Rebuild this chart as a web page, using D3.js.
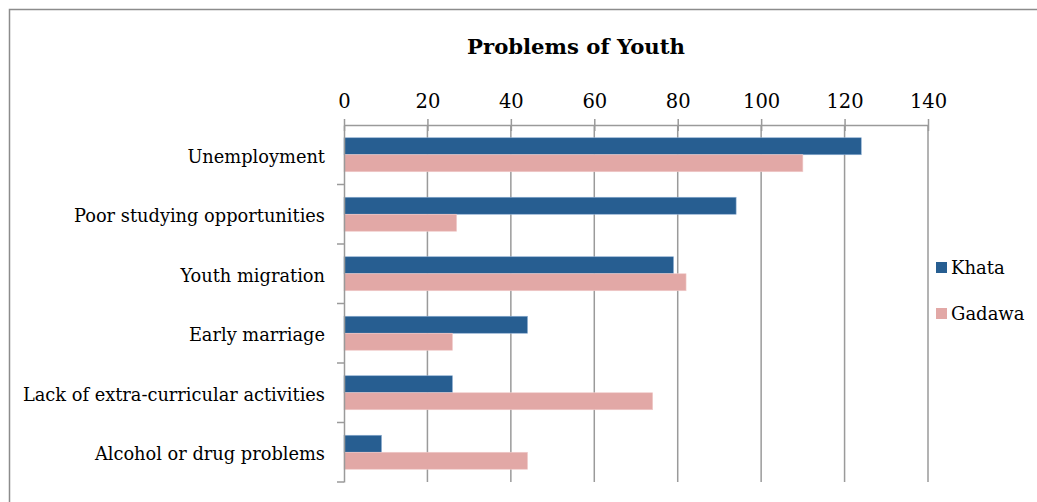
<!DOCTYPE html>
<html>
<head>
<meta charset="utf-8">
<script src="https://cdn.jsdelivr.net/npm/d3@7"></script>
<style>
  html, body { margin: 0; padding: 0; background: #fff; }
  svg { display: block; }
  text { font-family: "DejaVu Serif", serif; fill: #000; }
</style>
</head>
<body>
<svg id="chart" width="1037" height="502"></svg>
<script>
// Survey responses: problems faced by youth in two villages
const categories = [
  "Unemployment",
  "Poor studying opportunities",
  "Youth migration",
  "Early marriage",
  "Lack of extra-curricular activities",
  "Alcohol or drug problems"
];
const seriesNames = ["Khata", "Gadawa"];
const khata  = [124, 94, 79, 44, 26, 9];
const gadawa = [110, 27, 82, 26, 74, 44];
const tickValues = [0, 20, 40, 60, 80, 100, 120, 140];
const colors = ["#275E91", "#E2A8A6"];

const labelFont = "DejaVu Serif, serif";
const labelSize = 17.8;

const rows = categories.map((c, i) => ({ category: c, values: [khata[i], gadawa[i]] }));

const svg = d3.select("#chart");
const margin = { left: 344, top: 125 };
const plotRight = 928, plotBottom = 482;

// Chart frame
svg.append("path")
  .attr("d", "M9.5,502 V9.5 H1037")
  .attr("fill", "none")
  .attr("stroke", "#8c8c8c")
  .attr("stroke-width", 1.5);

const x = d3.scaleLinear().domain([0, 140]).range([margin.left, plotRight]);
const y = d3.scaleBand().domain(categories).range([margin.top, plotBottom]);
const inner = d3.scaleBand().domain(seriesNames).range([0, y.bandwidth()]).paddingInner(0).paddingOuter(0.75);

// Vertical gridlines
svg.append("g")
  .selectAll("line")
  .data(tickValues.slice(1))
  .join("line")
  .attr("x1", d => x(d)).attr("x2", d => x(d))
  .attr("y1", margin.top).attr("y2", plotBottom)
  .attr("stroke", "#9a9a9a")
  .attr("stroke-width", 1.5);

// Bars
const groups = svg.append("g")
  .selectAll("g")
  .data(rows)
  .join("g")
  .attr("transform", d => `translate(0,${y(d.category)})`);

groups.selectAll("rect")
  .data(d => d.values.map((v, i) => ({ name: seriesNames[i], value: v, i })))
  .join("rect")
  .attr("x", x(0))
  .attr("y", d => inner(d.name))
  .attr("width", d => x(d.value) - x(0))
  .attr("height", inner.bandwidth())
  .attr("fill", d => colors[d.i])
  .attr("stroke", d => d.i === 0 ? "#8fb0d3" : "#f0cccb")
  .attr("stroke-width", 0.6);

// Top value axis
const xAxis = svg.append("g")
  .attr("transform", `translate(0,${margin.top})`)
  .call(d3.axisTop(x).tickValues(tickValues).tickSize(6).tickPadding(11).tickSizeOuter(0));
xAxis.select(".domain").attr("stroke", "#9a9a9a").attr("stroke-width", 1.5);
xAxis.selectAll(".tick line")
  .attr("stroke", "#9a9a9a").attr("stroke-width", 1.5)
  .attr("y1", 6).attr("y2", -6);
xAxis.selectAll(".tick text")
  .attr("font-family", labelFont)
  .attr("font-size", 19.5)
  .attr("fill", "#000");

// Left category axis
const yAxis = svg.append("g")
  .attr("transform", `translate(${margin.left},0)`)
  .call(d3.axisLeft(y).tickSize(0).tickPadding(19).tickSizeOuter(0));
yAxis.select(".domain").attr("stroke", "#9a9a9a").attr("stroke-width", 1.5);
yAxis.selectAll(".tick text")
  .attr("font-family", labelFont)
  .attr("font-size", labelSize)
  .attr("dy", "0.45em")
  .attr("fill", "#000");

// Band separator ticks
const bounds = categories.map(c => y(c) + y.bandwidth());
svg.append("g")
  .selectAll("line")
  .data(bounds)
  .join("line")
  .attr("x1", margin.left - 7).attr("x2", margin.left)
  .attr("y1", d => d).attr("y2", d => d)
  .attr("stroke", "#9a9a9a")
  .attr("stroke-width", 1.5);

// Title
svg.append("text")
  .attr("x", 576)
  .attr("y", 54)
  .attr("text-anchor", "middle")
  .attr("font-family", labelFont)
  .attr("font-size", 21.2)
  .attr("font-weight", "bold")
  .text("Problems of Youth");

// Legend
const legend = svg.append("g")
  .selectAll("g")
  .data(seriesNames)
  .join("g")
  .attr("transform", (d, i) => `translate(936,${262 + i * 46})`);
legend.append("rect")
  .attr("width", 11).attr("height", 11)
  .attr("fill", (d, i) => colors[i]);
legend.append("text")
  .attr("x", 15)
  .attr("y", 12)
  .attr("font-family", labelFont)
  .attr("font-size", 18)
  .text(d => d);
</script>
</body>
</html>
